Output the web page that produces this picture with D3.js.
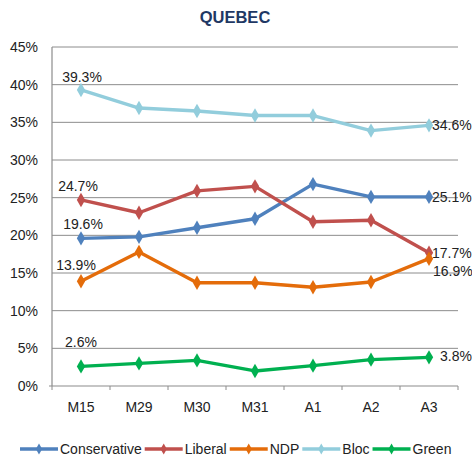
<!DOCTYPE html>
<html><head><meta charset="utf-8">
<script src="https://cdn.jsdelivr.net/npm/d3@7"></script>
<style>body{margin:0;background:#fff;}svg{display:block;font-family:"Liberation Sans",Arial,sans-serif;}</style>
</head><body>
<svg id="c" width="472" height="458"></svg>
<script>
const categories = ["M15","M29","M30","M31","A1","A2","A3"];
const seriesNames = ["Conservative","Liberal","NDP","Bloc","Green"];
const conservative = [19.6,19.8,21.0,22.2,26.8,25.1,25.1];
const liberal = [24.7,23.0,25.9,26.5,21.8,22.0,17.7];
const ndp = [13.9,17.8,13.7,13.7,13.1,13.8,16.9];
const bloc = [39.3,36.9,36.5,35.9,35.9,33.9,34.6];
const green = [2.6,3.0,3.4,2.0,2.7,3.5,3.8];
const yTicks = [0,5,10,15,20,25,30,35,40,45];
const colors = ["#4F81BD","#C0504D","#E46C0A","#92CDDC","#00B050"];
const series = [conservative, liberal, ndp, bloc, green];

const svg = d3.select("#c");
const L = 52, R = 458, T = 47, B = 386;
const FS = 14;
const x = d3.scaleBand().domain(categories).range([L, R]);
const y = d3.scaleLinear().domain([0,45]).range([B, T]);

svg.append("text").attr("x",235).attr("y",23).attr("text-anchor","middle")
  .attr("font-size",16.5).attr("font-weight","bold").attr("fill","#1F3864").text("QUEBEC");

// gridlines
svg.append("g").selectAll("line").data(yTicks.filter(d=>d>0)).join("line")
  .attr("x1",L).attr("x2",R).attr("y1",d=>y(d)).attr("y2",d=>y(d))
  .attr("stroke","#8c8c8c").attr("stroke-width",1);

// y axis
const ya = svg.append("g").attr("transform",`translate(${L},0)`)
  .call(d3.axisLeft(y).tickValues(yTicks).tickFormat(d=>d+"%").tickSize(0).tickPadding(14));
ya.select(".domain").attr("stroke","#8c8c8c").attr("stroke-width",1.2);
ya.selectAll("text").attr("font-size",FS).attr("fill","#222").attr("font-family","Liberation Sans, Arial, sans-serif");
ya.selectAll("line").remove();
ya.select(".domain").attr("d",`M0,${T}V${B}`);
svg.append("line").attr("x1",L-3).attr("x2",L).attr("y1",B).attr("y2",B).attr("stroke","#8c8c8c");

// x axis
const xa = svg.append("g").attr("transform",`translate(0,${B})`)
  .call(d3.axisBottom(x).tickSize(0).tickPadding(16));
xa.select(".domain").attr("stroke","#8c8c8c").attr("stroke-width",1.2).attr("d",`M${L},0H${R}`);
xa.selectAll("text").attr("font-size",FS).attr("fill","#222").attr("font-family","Liberation Sans, Arial, sans-serif");
const bounds = categories.map(c=>x(c)).concat([R]);
svg.append("g").selectAll("line").data(bounds).join("line")
  .attr("x1",d=>d).attr("x2",d=>d).attr("y1",B).attr("y2",B+4).attr("stroke","#8c8c8c");

const cx = c => x(c) + x.bandwidth()/2;
const line = d3.line().x((d,i)=>cx(categories[i])).y(d=>y(d));
const diamond = d3.symbol().type(d3.symbolDiamond).size(60);

series.forEach((s,k)=>{
  const g = svg.append("g");
  g.append("path").attr("d",line(s)).attr("fill","none").attr("stroke",colors[k]).attr("stroke-width",3.4).attr("stroke-linejoin","round");
  g.selectAll("path.m").data(s).join("path").attr("class","m")
    .attr("transform",(d,i)=>`translate(${cx(categories[i])},${y(d)})`)
    .attr("d",diamond).attr("fill",colors[k]);
});

// data labels
const lab = (t, xx, yy, anchor) => svg.append("text").attr("x",xx).attr("y",yy)
  .attr("text-anchor",anchor||"middle").attr("font-size",FS).attr("fill","#222").text(t);
const fmt = v => v.toFixed(1)+"%";
const first = categories[0], last = categories[categories.length-1];
lab(fmt(bloc[0]), cx(first)+1, y(bloc[0])-8);
lab(fmt(liberal[0]), cx(first)-3, y(liberal[0])-9);
lab(fmt(conservative[0]), cx(first)+2, y(conservative[0])-9);
lab(fmt(ndp[0]), cx(first)-5, y(ndp[0])-11);
lab(fmt(green[0]), cx(first), y(green[0])-19);
lab(fmt(bloc[6]), cx(last)+3, y(bloc[6])+5, "start");
lab(fmt(conservative[6]), cx(last)+3, y(conservative[6])+5, "start");
lab(fmt(liberal[6]), cx(last)+3, y(liberal[6])+5, "start");
lab(fmt(ndp[6]), cx(last)+4, y(ndp[6])+17, "start");
lab(fmt(green[6]), cx(last)+11, y(green[6])+4, "start");

// legend
const lg = svg.append("g");
let px = 20;
seriesNames.forEach((n,k)=>{
  const gx = px;
  lg.append("line").attr("x1",gx).attr("x2",gx+38).attr("y1",449).attr("y2",449).attr("stroke",colors[k]).attr("stroke-width",3.4);
  lg.append("path").attr("transform",`translate(${gx+19},449)`).attr("d",d3.symbol().type(d3.symbolDiamond).size(34)).attr("fill",colors[k]);
  const t = lg.append("text").attr("x",gx+40).attr("y",454).attr("font-size",FS).attr("fill","#222").text(n);
  px = gx + 40 + t.node().getComputedTextLength() + 3;
});
</script>
</body></html>
